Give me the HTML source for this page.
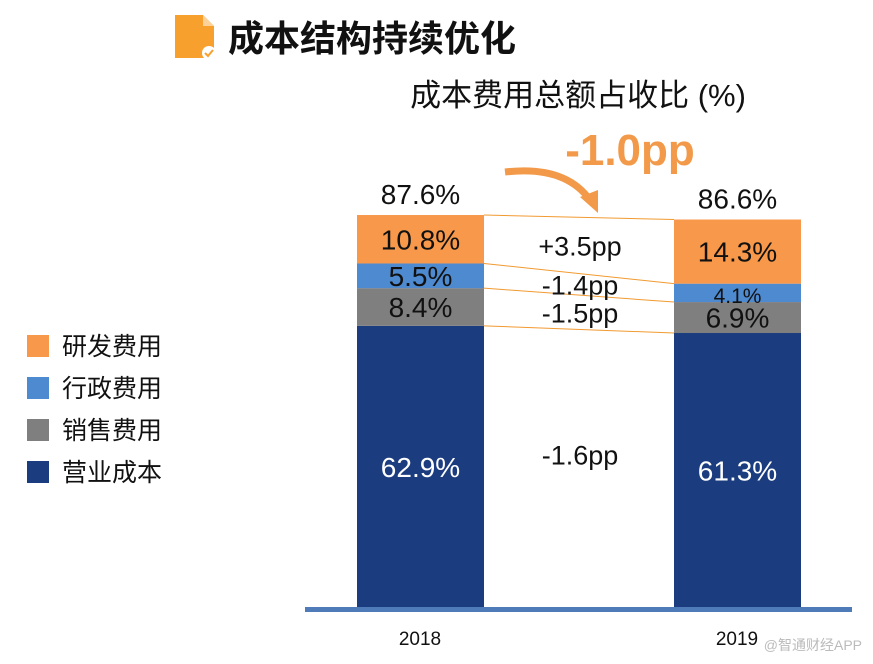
<!DOCTYPE html>
<html><head><meta charset="utf-8"><style>
body{margin:0;background:#fff;width:873px;height:664px;overflow:hidden;font-family:"Liberation Sans","Noto Sans CJK SC",sans-serif}
svg{position:absolute;left:0;top:0}
</style></head><body>
<svg width="873" height="664">
<g>
<path d="M175 15 H203 L214 26 V58 H175 Z" fill="#f7a02e"/>
<path d="M203 15 V26 H214 Z" fill="#fcd29a"/>
<circle cx="209" cy="53" r="7" fill="#fff"/>
<path d="M205 53 L208 56 L213 50" stroke="#f7a02e" stroke-width="2" fill="none"/>
</g>
<text x="228" y="51" font-size="36" font-weight="bold" fill="#111">成本结构持续优化</text>
<text x="578" y="106" font-size="31" text-anchor="middle" fill="#111">成本费用总额占收比 (%)</text>
<text x="630" y="165" font-size="44" font-weight="bold" text-anchor="middle" fill="#f29a4a">-1.0pp</text>
<path d="M505 172 Q565 165 590 200" stroke="#f29a4a" stroke-width="7" fill="none"/>
<path d="M580 197 L598 213 L598 190 Z" fill="#f29a4a"/>
<g id="bars"></g>
<rect x="305" y="607" width="547" height="5" fill="#4f7cb8"/>
<text x="420" y="645" font-size="19" text-anchor="middle" fill="#111">2018</text>
<text x="737" y="645" font-size="19" text-anchor="middle" fill="#111">2019</text>
<text x="862" y="650" font-size="14" text-anchor="end" fill="#bbb">@智通财经APP</text>
<g id="legend"></g>
</svg>
<script>
const years=["2018","2019"];
const seriesNames=["营业成本","销售费用","行政费用","研发费用"];
const v2018=[62.9,8.4,5.5,10.8];
const v2019=[61.3,6.9,4.1,14.3];
const totals=[87.6,86.6];
const changes=["-1.6pp","-1.5pp","-1.4pp","+3.5pp"];
const colors=["#1b3c7e","#7f7f7f","#4e8ad0","#f7984a"];
const NS="http://www.w3.org/2000/svg";
const base=608,k=4.486,bx=[357,674],bw=127;
const y=v=>base-v*k;
function mk(t,a,p){const e=document.createElementNS(NS,t);for(const n in a)e.setAttribute(n,a[n]);p.appendChild(e);return e;}
const g=document.getElementById('bars');
const vals=[v2018,v2019];const bounds=[[],[]];
vals.forEach((arr,i)=>{let c=0;bounds[i].push(y(0));arr.forEach((v,j)=>{
 const r=mk('rect',{x:bx[i],y:y(c+v),width:bw,height:v*k,fill:colors[j]},g);
 
 
 const t=mk('text',{x:bx[i]+bw/2,y:y(c+v/2)+10,'font-size':v<5?21:28,'text-anchor':'middle',fill:j==0?'#fff':'#111'},g);
 t.textContent=v.toFixed(1)+'%';
 
 
 c+=v;bounds[i].push(y(c));});
 const tt=mk('text',{x:bx[i]+bw/2,y:y(totals[i])-11,'font-size':28,'text-anchor':'middle',fill:'#111'},g);
 tt.textContent=totals[i].toFixed(1)+'%';
 
 
});
for(let j=1;j<=4;j++){const l=mk('line',{x1:bx[0]+bw,y1:bounds[0][j],x2:bx[1],y2:bounds[1][j],stroke:'#f29a30','stroke-width':1},g);
 
 }
for(let j=0;j<4;j++){const m=(bounds[0][j]+bounds[0][j+1]+bounds[1][j]+bounds[1][j+1])/4;
 const t=mk('text',{x:580,y:(j==0?m-4:m+10),'font-size':27,'text-anchor':'middle',fill:'#111'},g);
 t.textContent=changes[j];
 
 }
const lg=document.getElementById('legend');
[3,2,1,0].forEach((j,i)=>{const yy=335+i*42;
 const r=mk('rect',{x:27,y:yy,width:22,height:22,fill:colors[j]},lg);
 
 
 const t=mk('text',{x:62,y:yy+20,'font-size':25,fill:'#111'},lg);
 t.textContent=seriesNames[j];
 
 });
</script>
</body></html>
